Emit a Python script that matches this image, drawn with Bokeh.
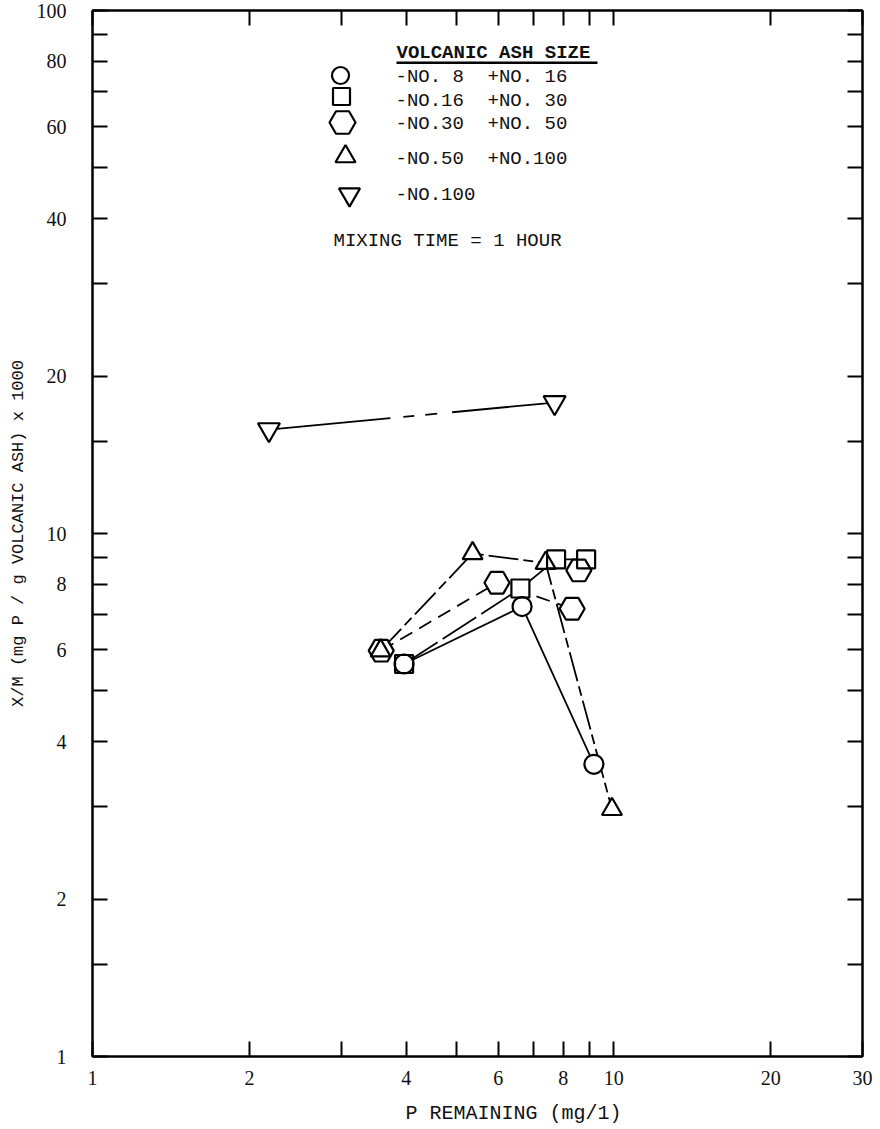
import math

from bokeh.embed import file_html
from bokeh.models import (BoxAnnotation, CustomJSTickFormatter, FixedTicker,
                          Label, LogAxis, Range1d)
from bokeh.plotting import figure
from bokeh.resources import INLINE

# ---- data: P remaining (mg/l) vs X/M (mg P / g ash x 1000), 1 hour mixing ----
circle_x = [3.96, 6.67, 9.16]          # -No.8 +No.16
circle_y = [5.63, 7.25, 3.62]
square_x = [3.96, 6.62, 7.75, 8.85]    # -No.16 +No.30
square_y = [5.63, 7.85, 8.92, 8.92]
hexagon_x = [3.58, 5.97, 8.32, 8.57]   # -No.30 +No.50
hexagon_y = [5.97, 8.05, 7.18, 8.50]
hexagon_joined = 3                     # last run stands on its own
triangle_x = [3.57, 5.36, 7.40, 9.92]  # -No.50 +No.100
triangle_y = [5.97, 9.16, 8.78, 2.97]
inv_triangle_x = [2.18, 7.70]          # -No.100
inv_triangle_y = [15.8, 17.8]

x_ticks = [1, 2, 3, 4, 5, 6, 7, 8, 9, 10, 20, 30]
x_tick_labels = [1, 2, 4, 6, 8, 10, 20, 30]
y_ticks = [1, 1.5, 2, 3, 4, 5, 6, 7, 8, 9, 10, 15, 20, 30, 40, 50, 60, 70, 80, 90, 100]
y_tick_labels = [1, 2, 4, 6, 8, 10, 20, 40, 60, 80, 100]

legend_title = "VOLCANIC ASH SIZE"
legend_left = ["-NO. 8", "-NO.16", "-NO.30", "-NO.50", "-NO.100"]
legend_right = ["+NO. 16", "+NO. 30", "+NO. 50", "+NO.100", ""]
note = "MIXING TIME = 1 HOUR"
x_title = "P REMAINING (mg/1)"
y_title = "X/M (mg P / g VOLCANIC ASH) x 1000"

# ---- layout ----
W, H = 880, 1129
LEFT, RIGHT, TOP, BOTTOM = 92, 18, 10, 73
FW, FH = W - LEFT - RIGHT, H - TOP - BOTTOM
X0, X1, Y0, Y1 = 1, 30, 1, 100

MONO = "Liberation Mono"
SERIF = "Liberation Serif"
INK = "#111111"


def sx(px):
    """page pixel column -> frame screen x"""
    return px - LEFT


def sy(py):
    """page pixel row -> frame screen y (measured upward)"""
    return (TOP + FH) - py


def to_data(px, py):
    fx = (px - LEFT) / FW
    fy = ((TOP + FH) - py) / FH
    lx = math.log10(X0) + fx * (math.log10(X1) - math.log10(X0))
    ly = math.log10(Y0) + fy * (math.log10(Y1) - math.log10(Y0))
    return 10 ** lx, 10 ** ly


p = figure(width=W, height=H, x_axis_type="log", y_axis_type="log",
           x_range=Range1d(X0, X1), y_range=Range1d(Y0, Y1),
           output_backend="svg", toolbar_location=None,
           min_border_left=LEFT, min_border_right=RIGHT,
           min_border_top=TOP, min_border_bottom=BOTTOM,
           background_fill_color="white", border_fill_color="white")
p.grid.visible = False
p.outline_line_color = "black"
p.outline_line_width = 2


def label_formatter(shown):
    return CustomJSTickFormatter(args=dict(shown=shown),
                                 code="return shown.includes(tick) ? String(tick) : '';")


def style_axis(ax, ticks, shown, with_labels=True):
    ax.ticker = FixedTicker(ticks=ticks, minor_ticks=[])
    ax.major_tick_in = 15
    ax.major_tick_out = 0
    ax.minor_tick_line_color = None
    ax.major_tick_line_width = 2
    ax.major_tick_line_color = "black"
    ax.axis_line_width = 2
    ax.axis_line_color = "black"
    if with_labels:
        ax.formatter = label_formatter(shown)
        ax.major_label_text_font = SERIF
        ax.major_label_text_font_size = "20px"
        ax.major_label_text_color = INK
    else:
        ax.formatter = CustomJSTickFormatter(code="return '';")
        ax.major_label_text_font_size = "0px"
        ax.major_label_standoff = 0


xa = p.xaxis[0]
style_axis(xa, x_ticks, x_tick_labels)
xa.major_label_standoff = 14
# the title sits a little right of the frame centre; pad with no-break spaces
xa.axis_label = "\u00a0" * 6 + x_title
xa.axis_label_text_font = MONO
xa.axis_label_text_font_size = "20px"
xa.axis_label_text_font_style = "normal"
xa.axis_label_text_color = INK
xa.axis_label_standoff = 14

ya = p.yaxis[0]
style_axis(ya, y_ticks, y_tick_labels)
ya.major_label_standoff = 26
ya.axis_label = y_title
ya.axis_label_text_font = MONO
ya.axis_label_text_font_size = "17px"
ya.axis_label_text_font_style = "normal"
ya.axis_label_text_color = INK
ya.axis_label_standoff = 6

top_axis = LogAxis()
style_axis(top_axis, x_ticks, [], with_labels=False)
p.add_layout(top_axis, "above")
right_axis = LogAxis()
style_axis(right_axis, y_ticks, [], with_labels=False)
p.add_layout(right_axis, "right")

# ---- connecting lines ----
LW = 1.8
p.line(circle_x, circle_y, line_color="black", line_width=LW)
p.line(square_x, square_y, line_color="black", line_width=LW, line_dash="40 6")
p.line(hexagon_x[:hexagon_joined], hexagon_y[:hexagon_joined],
       line_color="black", line_width=LW, line_dash="14 8")
p.line(triangle_x, triangle_y, line_color="black", line_width=LW, line_dash="30 5 10 5")
p.line(inv_triangle_x, inv_triangle_y, line_color="black", line_width=LW,
       line_dash="122 13 11 11 12 15 400")

# ---- markers: white knock-out first, then open outlines ----
series = [
    ("hex", hexagon_x, hexagon_y, 25),
    ("square", square_x, square_y, 18),
    ("triangle", triangle_x, triangle_y, 20),
    ("circle", circle_x, circle_y, 19),
    ("inverted_triangle", inv_triangle_x, inv_triangle_y, 22),
]
for marker, xs, ys, size in series:
    p.scatter(xs, ys, marker=marker, size=size, fill_color="white", line_color=None)
for marker, xs, ys, size in series:
    p.scatter(xs, ys, marker=marker, size=size, fill_color=None,
              line_color="black", line_width=2.2)

# ---- key ----
key_markers = [("circle", 340, 75, 17), ("square", 341, 96, 17),
               ("hex", 342, 122, 26), ("triangle", 345, 156, 20),
               ("inverted_triangle", 349, 194, 21)]
row_y = [76, 100, 123, 158, 194]
for marker, px, py, size in key_markers:
    kx, ky = to_data(px, py)
    p.scatter([kx], [ky], marker=marker, size=size, fill_color=None,
              line_color="black", line_width=2.2)

p.add_layout(Label(x=sx(396), y=sy(52), x_units="screen", y_units="screen",
                   text=legend_title, text_baseline="middle",
                   text_font=MONO, text_font_size="19px", text_font_style="bold",
                   text_color=INK))
p.add_layout(BoxAnnotation(left=sx(396), right=sx(597), bottom=sy(63.5), top=sy(61),
                           left_units="screen", right_units="screen",
                           bottom_units="screen", top_units="screen",
                           fill_color="black", fill_alpha=1, line_color=None))
for left_txt, right_txt, py in zip(legend_left, legend_right, row_y):
    p.add_layout(Label(x=sx(395), y=sy(py), x_units="screen", y_units="screen",
                       text=left_txt, text_baseline="middle",
                       text_font=MONO, text_font_size="19px", text_color=INK))
    if right_txt:
        p.add_layout(Label(x=sx(487), y=sy(py), x_units="screen", y_units="screen",
                           text=right_txt, text_baseline="middle",
                           text_font=MONO, text_font_size="19px", text_color=INK))
p.add_layout(Label(x=sx(333), y=sy(240), x_units="screen", y_units="screen",
                   text=note, text_baseline="middle",
                   text_font=MONO, text_font_size="19px", text_color=INK))

open("out.html", "w").write(file_html(p, INLINE))
